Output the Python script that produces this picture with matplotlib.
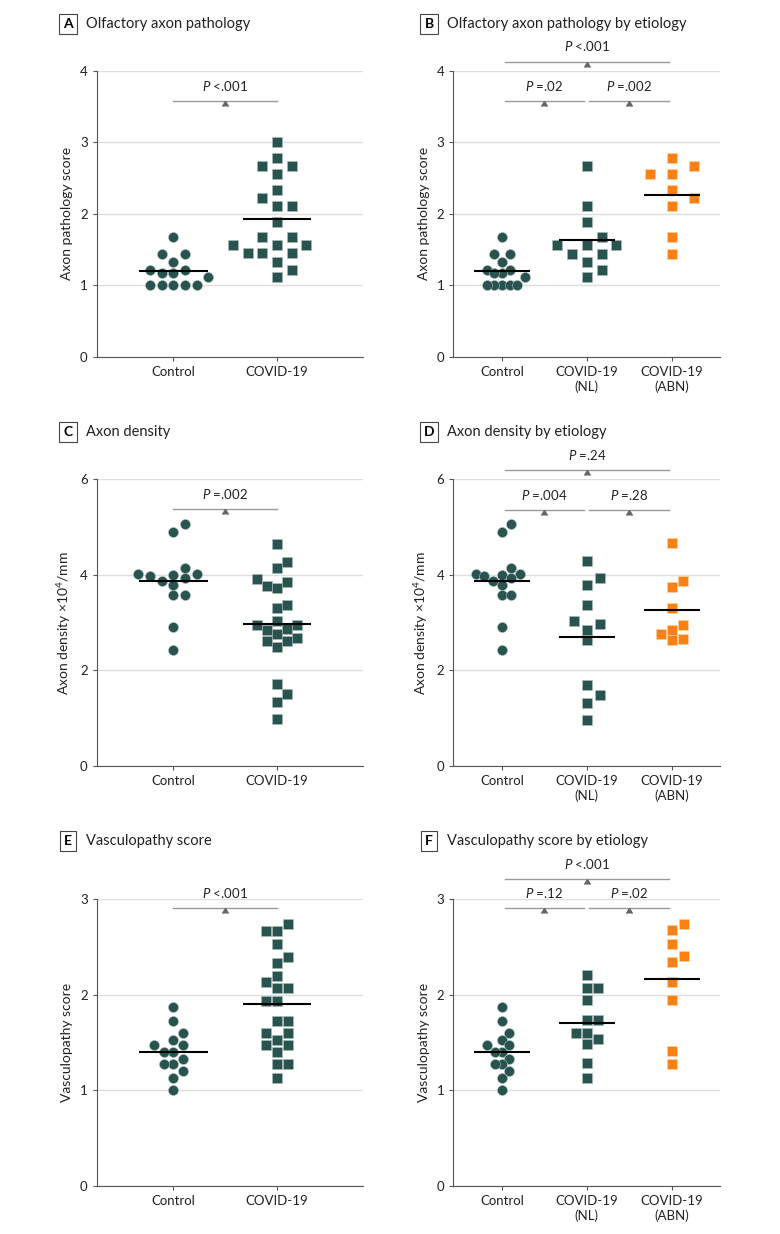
import numpy as np
import matplotlib.pyplot as plt

plt.rcParams['font.family'] = ['Lato', 'DejaVu Sans']
plt.rcParams['mathtext.fontset'] = 'custom'
plt.rcParams['mathtext.it'] = 'Lato:italic'
plt.rcParams['mathtext.rm'] = 'Lato'

TEAL = '#28534f'
ORANGE = '#fb8113'

# ---- data ----
# olfactory axon pathology score
path_control = [1.67, 1.44, 1.44, 1.33, 1.22, 1.22, 1.17, 1.17, 1.11, 1.0, 1.0, 1.0, 1.0, 1.0]
path_covid = [3.0, 2.78, 2.67, 2.67, 2.56, 2.33, 2.22, 2.11, 2.11, 1.88, 1.67, 1.67,
              1.56, 1.56, 1.56, 1.45, 1.45, 1.45, 1.33, 1.22, 1.11]
path_nl = [2.67, 2.11, 1.89, 1.67, 1.56, 1.56, 1.56, 1.44, 1.44, 1.33, 1.22, 1.11]
path_abn = [2.78, 2.67, 2.56, 2.56, 2.33, 2.22, 2.11, 1.67, 1.44]

# axon density x10^4/mm
dens_control = [5.06, 4.89, 4.15, 4.01, 4.01, 4.0, 3.97, 3.94, 3.87, 3.79, 3.57, 3.57, 2.91, 2.42]
dens_covid = [4.64, 4.26, 4.14, 3.92, 3.86, 3.77, 3.72, 3.36, 3.31, 3.04, 2.96, 2.96,
              2.86, 2.84, 2.76, 2.67, 2.62, 2.62, 2.48, 1.72, 1.51, 1.34, 0.98]
dens_nl = [4.28, 3.94, 3.78, 3.37, 3.04, 2.98, 2.85, 2.63, 1.69, 1.49, 1.32, 0.96]
dens_abn = [4.66, 3.87, 3.74, 3.30, 2.95, 2.85, 2.77, 2.66, 2.63]

# vasculopathy score
vasc_control = [1.87, 1.73, 1.60, 1.53, 1.47, 1.47, 1.40, 1.40, 1.33, 1.27, 1.27, 1.20, 1.13, 1.0]
vasc_covid = [2.74, 2.67, 2.67, 2.53, 2.40, 2.33, 2.20, 2.13, 2.07, 2.07, 1.93, 1.93,
              1.73, 1.73, 1.60, 1.60, 1.53, 1.47, 1.47, 1.40, 1.27, 1.27, 1.13]
vasc_nl = [2.21, 2.07, 2.07, 1.94, 1.74, 1.74, 1.60, 1.60, 1.54, 1.48, 1.28, 1.13]
vasc_abn = [2.74, 2.68, 2.53, 2.41, 2.34, 2.13, 1.94, 1.41, 1.27]

labels_two = ['Control', 'COVID-19']
labels_three = ['Control', 'COVID-19\n(NL)', 'COVID-19\n(ABN)']

# p values: (from group, to group, level, text)
p_path_two = [(0, 1, 3.58, '<.001')]
p_path_three = [(0.03, 0.97, 3.58, '=.02'), (1.03, 1.97, 3.58, '=.002'), (0.03, 1.97, 4.13, '<.001')]
p_dens_two = [(0, 1, 5.37, '=.002')]
p_dens_three = [(0.03, 0.97, 5.36, '=.004'), (1.03, 1.97, 5.36, '=.28'), (0.03, 1.97, 6.19, '=.24')]
p_vasc_two = [(0, 1, 2.91, '<.001')]
p_vasc_three = [(0.03, 0.97, 2.91, '=.12'), (1.03, 1.97, 2.91, '=.02'), (0.03, 1.97, 3.21, '<.001')]

W, H = 780, 1234
fig = plt.figure(figsize=(W / 100, H / 100), dpi=100)


def px_axes(left, right, top, bottom):
    return fig.add_axes([left / W, 1 - bottom / H, (right - left) / W, (bottom - top) / H])


def swarm_x(ax, xc, vals, step, h=10):
    # simple column-slot swarm in pixel space, balanced left/right
    ys = ax.transData.transform(np.column_stack([np.full(len(vals), xc), vals]))[:, 1]
    ppu = ax.transData.transform((1, 0))[0] - ax.transData.transform((0, 0))[0]
    mags = [k * step / 2 for k in range(0, 11)]
    placed = []
    offs = np.zeros(len(vals))
    for i in np.argsort(vals, kind='stable'):
        y = ys[i]
        near = sum(px for px, py in placed if abs(y - py) < 3 * h)
        first = 1 if near <= 0 else -1
        chosen = 0
        for m in mags:
            ok = False
            for c in ([m * first, -m * first] if m else [0]):
                if all(abs(c - px) >= step * 0.99 or abs(y - py) >= h for px, py in placed):
                    chosen, ok = c, True
                    break
            if ok:
                break
        placed.append((chosen, y))
        offs[i] = chosen
    return xc + offs / ppu


def panel(box, ylim, yticks, ylabel, xlim, xlabels, groups, pvals, letter, title, title_y, letter_x):
    ax = px_axes(*box)
    ax.set_xlim(*xlim)
    ax.set_ylim(*ylim)
    ax.set_yticks(yticks)
    ax.set_xticks(range(len(xlabels)))
    ax.set_xticklabels(xlabels, linespacing=1.25)
    for s in ['top', 'right']:
        ax.spines[s].set_visible(False)
    for s in ['left', 'bottom']:
        ax.spines[s].set_color('#555555')
        ax.spines[s].set_linewidth(0.8)
    ax.tick_params(length=3, width=0.8, color='#555555', labelsize=9.5, pad=3.5, labelcolor='#222222')
    ax.yaxis.grid(True, color='#dddddd', lw=1)
    ax.set_axisbelow(True)
    ax.set_ylabel(ylabel, fontsize=10, color='#222222')
    ax.yaxis.set_label_coords(-0.089, 0.5)

    for i, (vals, marker, color, step) in enumerate(groups):
        xs = swarm_x(ax, i, vals, step)
        size = 52 if marker == 'o' else 45
        ax.scatter(xs, vals, s=size, marker=marker, color=color, edgecolors='#a9bdbb' if color == TEAL else '#ffd2a8',
                   linewidths=0.4, zorder=3, clip_on=False)
        m = np.mean(vals)
        ax.plot([i - 0.33, i + 0.33], [m, m], color='black', lw=1.5, zorder=4, solid_capstyle='butt')

    for x0, x1, y, txt in pvals:
        ax.plot([x0, x1], [y, y], color='#999999', lw=1, clip_on=False, zorder=2)
        ax.plot([(x0 + x1) / 2], [y], marker=6, ms=4.5, color='#666666', clip_on=False, zorder=2)
        ax.annotate('$P$ ' + txt, ((x0 + x1) / 2, y), xytext=(0, 11), textcoords='offset points',
                    ha='center', va='center', fontsize=9.5, color='#222222', annotation_clip=False)

    fig.text(letter_x / W, 1 - title_y / H, letter, fontsize=10, fontweight='bold', ha='center', va='center',
             bbox=dict(boxstyle='square,pad=0.3', fc='white', ec='#444444', lw=0.8))
    fig.text((letter_x + 18) / W, 1 - title_y / H, title, fontsize=10.5, ha='left', va='center', color='#222222')
    return ax


xl2 = (-0.739, 1.829)
xl3 = (-0.574, 2.569)
LA = (96.7, 363)
LB = (453.3, 720)

panel((*LA, 71, 356.7), (0, 4), [0, 1, 2, 3, 4], 'Axon pathology score', xl2, labels_two,
      [(path_control, 'o', TEAL, 11.7), (path_covid, 's', TEAL, 14.7)],
      p_path_two, 'A', 'Olfactory axon pathology', 24, 68)
panel((*LB, 71, 356.7), (0, 4), [0, 1, 2, 3, 4], 'Axon pathology score', xl3, labels_three,
      [(path_control, 'o', TEAL, 7.7), (path_nl, 's', TEAL, 14.7), (path_abn, 's', ORANGE, 22)],
      p_path_three, 'B', 'Olfactory axon pathology by etiology', 24, 429)
panel((*LA, 479.3, 766), (0, 6), [0, 2, 4, 6], 'Axon density ×10$^4$/mm', xl2, labels_two,
      [(dens_control, 'o', TEAL, 11.7), (dens_covid, 's', TEAL, 9.8)],
      p_dens_two, 'C', 'Axon density', 432, 68)
panel((*LB, 479.3, 766), (0, 6), [0, 2, 4, 6], 'Axon density ×10$^4$/mm', xl3, labels_three,
      [(dens_control, 'o', TEAL, 8.8), (dens_nl, 's', TEAL, 13), (dens_abn, 's', ORANGE, 11)],
      p_dens_three, 'D', 'Axon density by etiology', 432, 429)
panel((*LA, 899.3, 1185.6), (0, 3), [0, 1, 2, 3], 'Vasculopathy score', xl2, labels_two,
      [(vasc_control, 'o', TEAL, 9.8), (vasc_covid, 's', TEAL, 11)],
      p_vasc_two, 'E', 'Vasculopathy score', 841, 68)
panel((*LB, 899.3, 1185.6), (0, 3), [0, 1, 2, 3], 'Vasculopathy score', xl3, labels_three,
      [(vasc_control, 'o', TEAL, 7.3), (vasc_nl, 's', TEAL, 11), (vasc_abn, 's', ORANGE, 12.3)],
      p_vasc_three, 'F', 'Vasculopathy score by etiology', 841, 429)

fig.savefig('out.png', dpi=100, facecolor='white')
